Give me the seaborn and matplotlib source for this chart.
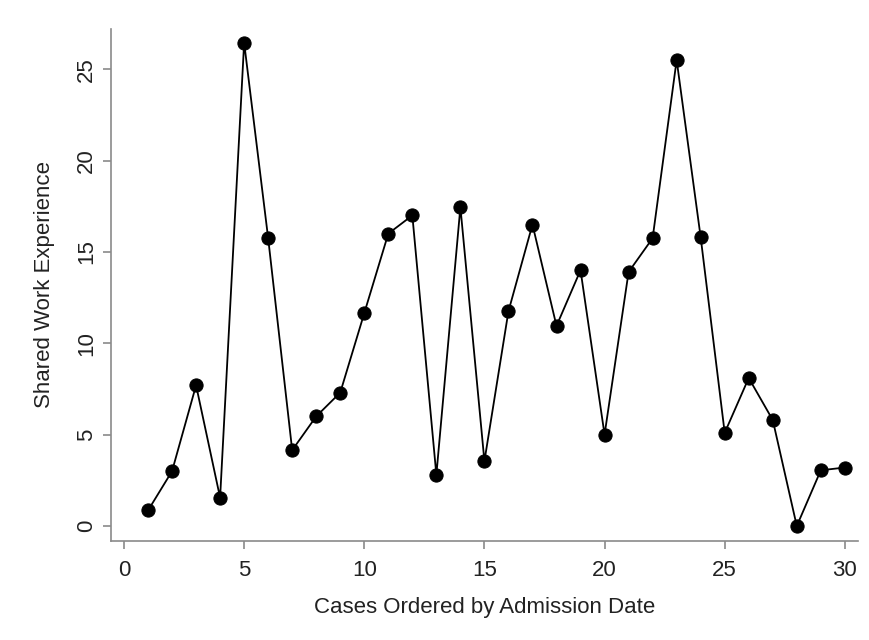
import matplotlib
matplotlib.use("Agg")
import matplotlib.pyplot as plt
import seaborn as sns
import pandas as pd

# case order and shared work experience values
cases = list(range(1, 31))
experience = [0.85, 3.0, 7.7, 1.55, 26.45, 15.75, 4.15, 6.0, 7.3, 11.65,
              16.0, 17.0, 2.8, 17.45, 3.55, 11.75, 16.5, 10.95, 14.0, 5.0,
              13.9, 15.75, 25.5, 15.8, 5.1, 8.1, 5.8, 0.0, 3.05, 3.2]
xticks = [0, 5, 10, 15, 20, 25, 30]
yticks = [0, 5, 10, 15, 20, 25]

df = pd.DataFrame({"case": cases, "exp": experience})

sns.set_style("white")
plt.rcParams['font.family'] = ['Arial', 'Liberation Sans', 'DejaVu Sans']

fig = plt.figure(figsize=(8.7, 6.4), dpi=100)
ax = fig.add_axes([0.1276, 0.1547, 0.8584, 0.80])

sns.lineplot(data=df, x="case", y="exp", color="black", linewidth=1.3,
             marker="o", markersize=9.5, markeredgecolor="black", ax=ax)

ax.set_xlim(-0.54, 30.54)
ax.set_ylim(-0.82, 27.2)
ax.set_xticks(xticks)
ax.set_yticks(yticks)
ax.set_xticklabels([str(t) for t in xticks], fontsize=16, color="#222222")
ax.set_yticklabels([str(t) for t in yticks], fontsize=16, color="#222222",
                   rotation=90, va="center")
ax.set_xlabel("Cases Ordered by Admission Date", fontsize=16, color="#222222", labelpad=11)
ax.set_ylabel("Shared Work Experience", fontsize=16, color="#222222", labelpad=15)

for s in ["top", "right"]:
    ax.spines[s].set_visible(False)
for s in ["left", "bottom"]:
    ax.spines[s].set_color("#8a8a8a")
    ax.spines[s].set_linewidth(1.2)
ax.tick_params(axis="both", direction="out", length=6, width=1.2, color="#8a8a8a",
               left=True, bottom=True, pad=4)
ax.tick_params(axis="x", pad=8)

fig.savefig("out.png", dpi=100)
